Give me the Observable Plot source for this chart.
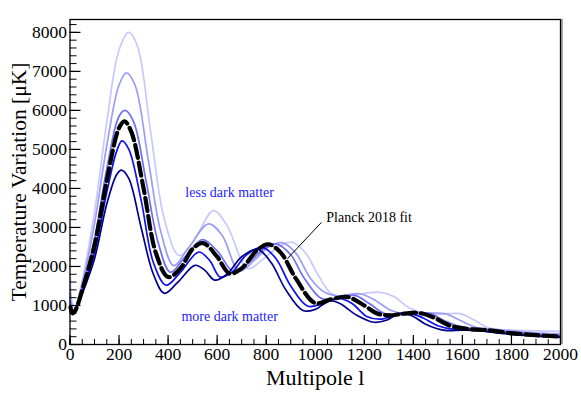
<!DOCTYPE html>
<html><head><meta charset="utf-8">
<script src="https://cdn.jsdelivr.net/npm/d3@7"></script>
<script src="https://cdn.jsdelivr.net/npm/@observablehq/plot@0.6"></script>
<style>
html,body{margin:0;padding:0;background:#fff;}
svg{display:block}
#chart svg, #chart svg text {font-family: "Liberation Serif", "Times New Roman", serif !important;}
</style>
</head><body><div id="chart"></div>
<script>
// Multipole l, value (µK) pairs
const lessDM3 = [[2,1700],[8,1100],[20,950],[50,1650],[100,3400],[150,5700],[200,7550],[240,8000],[275,7650],[330,5400],[385,3200],[445,2280],[500,2600],[585,3430],[640,3050],[725,1950],[790,2200],[850,2500],[905,2620],[960,2350],[1010,1800],[1070,1280],[1130,1250],[1200,1310],[1260,1340],[1320,1230],[1380,950],[1440,810],[1520,780],[1590,790],[1650,620],[1710,420],[1800,370],[1900,350],[2000,335]];
const lessDM2 = [[2,1300],[10,900],[20,900],[50,1550],[100,3100],[150,5100],[200,6650],[230,6960],[265,6650],[320,4700],[370,2900],[423,2020],[480,2450],[565,3090],[620,2800],[690,1880],[750,2150],[810,2500],[865,2610],[920,2350],[980,1700],[1040,1330],[1090,1250],[1180,1300],[1240,1150],[1310,870],[1370,780],[1450,800],[1530,790],[1590,620],[1660,430],[1740,380],[1850,320],[2000,270]];
const lessDM1 = [[2,1100],[10,820],[20,850],[50,1450],[100,2700],[150,4500],[200,5850],[225,6000],[260,5700],[310,4200],[360,2600],[410,1850],[470,2250],[540,2690],[600,2400],[670,1850],[730,2100],[790,2450],[840,2580],[900,2300],[950,1750],[1020,1200],[1070,1150],[1160,1260],[1220,1050],[1280,800],[1340,760],[1420,820],[1470,790],[1530,600],[1600,440],[1680,400],[1760,340],[1880,280],[2000,230]];
const moreDM1 = [[2,950],[10,800],[20,850],[50,1350],[100,2350],[150,3900],[190,4950],[212,5220],[240,5000],[290,3700],[340,2100],[392,1520],[450,1850],[525,2370],[570,2150],[612,1730],[660,1850],[720,2300],[785,2490],[840,2200],[900,1500],[970,980],[1030,1050],[1095,1180],[1150,1050],[1210,720],[1270,650],[1330,760],[1385,800],[1440,680],[1500,480],[1570,380],[1640,380],[1720,320],[1850,250],[2000,195]];
const moreDM2 = [[2,900],[10,800],[20,850],[50,1300],[100,2200],[150,3600],[190,4350],[210,4470],[240,4250],[290,3000],[340,1800],[385,1310],[440,1600],[510,2030],[550,1900],[590,1650],[640,1800],[700,2250],[765,2440],[820,2100],[880,1400],[950,870],[1000,900],[1060,1120],[1100,1050],[1170,750],[1240,570],[1290,620],[1345,800],[1400,720],[1450,520],[1530,360],[1600,370],[1660,360],[1750,290],[1850,230],[2000,180]];
const planck2018 = [[2,950],[10,800],[20,850],[50,1400],[100,2550],[150,4200],[200,5550],[222,5720],[250,5450],[300,4000],[350,2350],[400,1730],[450,1950],[500,2450],[542,2600],[600,2250],[650,1820],[700,1950],[760,2400],[808,2570],[860,2350],[920,1700],[1000,1060],[1060,1150],[1130,1220],[1200,1000],[1250,800],[1300,745],[1360,790],[1420,810],[1480,700],[1550,480],[1620,400],[1700,370],[1800,290],[1900,240],[2000,205]];

const seriesList = [lessDM3, lessDM2, lessDM1, moreDM1, moreDM2];
const seriesColors = ["#c8c8ff", "#9c9cf8", "#6f6ff0", "#1010f0", "#00008c"];

const xTicks = [0,200,400,600,800,1000,1200,1400,1600,1800,2000];
const yTicks = [0,1000,2000,3000,4000,5000,6000,7000,8000];
const xMinor = d3.range(0, 2001, 50);
const yMinor = d3.range(0, 8301, 200);

const W = 581, H = 393;
const mL = 69.5, mR = 21, mT = 19, mB = 49;
const innerW = W - mL - mR, innerH = H - mT - mB;
const serif = "Liberation Serif";

const lineMarks = seriesList.map((s, i) => Plot.line(s, {
  x: d => d[0], y: d => d[1], stroke: seriesColors[i], strokeWidth: 1.7, curve: "catmull-rom"
}));

const chart = Plot.plot({
  width: W, height: H,
  marginLeft: mL, marginRight: mR, marginTop: mT, marginBottom: mB,
  style: {fontFamily: serif, fontSize: "17.5px", color: "black", background: "white"},
  x: {domain: [0, 2000], axis: null},
  y: {domain: [0, 8330], axis: null},
  marks: [
    ...lineMarks,
    Plot.line(planck2018, {x: d => d[0], y: d => d[1], stroke: "black", strokeWidth: 4.2, strokeDasharray: "13,5", curve: "catmull-rom"}),
    Plot.ruleY(yMinor, {y: d => d, insetRight: innerW - 7, stroke: "black", strokeWidth: 1}),
    Plot.ruleY(yTicks, {y: d => d, insetRight: innerW - 11, stroke: "black", strokeWidth: 1.2}),
    Plot.ruleX(xMinor, {x: d => d, insetTop: innerH - 5, stroke: "black", strokeWidth: 1}),
    Plot.ruleX(xTicks, {x: d => d, insetTop: innerH - 9, stroke: "black", strokeWidth: 1.2}),
    Plot.ruleX([2000], {x: d => d, dx: 1.5, stroke: "#888", strokeWidth: 1.5}),
    Plot.frame({stroke: "black", strokeWidth: 1.3}),
    Plot.text(yTicks, {x: 0, y: d => d, text: d => String(d), textAnchor: "end", dx: -3, fontFamily: serif, fontSize: 17.5, fill: "black"}),
    Plot.text(xTicks, {x: d => d, y: 0, text: d => String(d), lineAnchor: "top", dy: 3, fontFamily: serif, fontSize: 17.5, fill: "black"}),
    Plot.link([{a: 1025, b: 3128, c: 887, d: 2205}], {x1: "a", y1: "b", x2: "c", y2: "d", stroke: "black", strokeWidth: 1}),
    Plot.text(["Planck 2018 fit"], {x: 1045, y: 3250, text: d => d, textAnchor: "start", fontFamily: serif, fontSize: 14, fill: "black"}),
    Plot.text(["less dark matter"], {x: 651, y: 3900, text: d => d, fontFamily: serif, fontSize: 14, fill: "#2222ff"}),
    Plot.text(["more dark matter"], {x: 651, y: 720, text: d => d, fontFamily: serif, fontSize: 14, fill: "#2222ff"}),
    Plot.text(["Temperature Variation [μK]"], {frameAnchor: "left", text: d => d, rotate: -90, textAnchor: "middle", dx: -51, fontFamily: serif, fontSize: 21.5, fill: "black"}),
    Plot.text(["Multipole l"], {frameAnchor: "bottom", text: d => d, textAnchor: "middle", dy: 40, fontFamily: serif, fontSize: 22, fill: "black"})
  ]
});
document.getElementById("chart").appendChild(chart);
</script>
</body></html>
